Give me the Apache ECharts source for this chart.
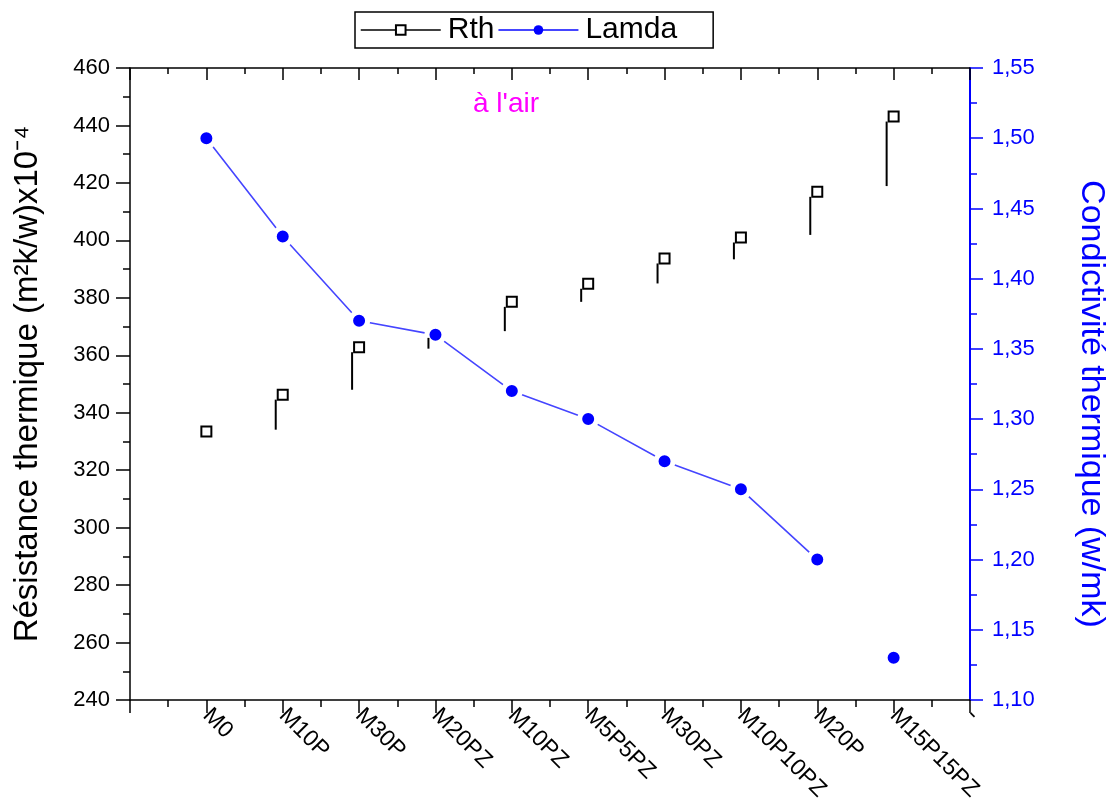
<!DOCTYPE html>
<html>
<head>
<meta charset="utf-8">
<script src="https://cdn.jsdelivr.net/npm/echarts@6/dist/echarts.min.js"></script>
<style>
  html, body { margin: 0; padding: 0; background: #fff; }
  #chart { width: 1109px; height: 812px; }
</style>
</head>
<body>
<div id="chart"></div>
<script>
// echantillons (axe x)
var categories = ['M0', 'M10P', 'M30P', 'M20PZ', 'M10PZ', 'M5P5PZ', 'M30PZ', 'M10P10PZ', 'M20P', 'M15P15PZ'];
var tickLabels = [''].concat(categories, ['-']);

// resistance thermique (axe gauche) et bas des petits traits verticaux
var rth = [333.5, 346.3, 362.8, 367.8, 378.6, 384.9, 393.7, 401.0, 416.9, 443.1];
var rthLow = [null, 334.1, 348.0, 362.3, 368.4, 378.6, 385.0, 393.4, 401.9, 418.9];

// conductivite (axe droit)
var lamda = [1.50, 1.43, 1.37, 1.36, 1.32, 1.30, 1.27, 1.25, 1.20, 1.13];
var lamdaBreakAfter = 8; // pas de trait entre M20P et M15P15PZ

var font = '"Liberation Sans", Arial, sans-serif';
var chart = echarts.init(document.getElementById('chart'));

var rthData = rth.map(function (v, i) { return [i + 1, v]; });
var segData = rth.map(function (v, i) { return [i + 1, v, rthLow[i]]; });
var lamdaData = [];
lamda.forEach(function (v, i) {
    lamdaData.push([i + 1, v]);
    if (i === lamdaBreakAfter) lamdaData.push([i + 1.5, '-']);
});

var option = {
    animation: false,
    textStyle: { fontFamily: font },
    title: {
        text: "à l'air",
        left: 468,
        top: 85,
        textStyle: { color: '#ff00ff', fontSize: 28, fontWeight: 'normal', fontFamily: font }
    },
    legend: {
        left: 355,
        top: 12,
        padding: [3, 36, 3, 5],
        borderColor: '#000',
        borderWidth: 1.5,
        itemWidth: 80,
        itemHeight: 12,
        itemGap: 3,
        textStyle: { fontSize: 30, color: '#000', fontFamily: font, padding: [0, 0, 0, 2] },
        data: [
            { name: 'Rth', lineStyle: { opacity: 1, color: '#000', width: 1.5 } },
            { name: 'Lamda', itemStyle: { borderWidth: 0 } }
        ]
    },
    grid: { left: 130, right: 139, top: 68, bottom: 112, outerBoundsMode: 'none' },
    xAxis: [{
        type: 'value',
        min: 0,
        max: 11,
        interval: 1,
        axisLine: { onZero: false, lineStyle: { color: '#000', width: 1.5 } },
        axisTick: { length: 13, lineStyle: { color: '#000', width: 1.5 } },
        minorTick: { show: true, splitNumber: 2, length: 7, lineStyle: { color: '#000', width: 1.5 } },
        splitLine: { show: false },
        axisLabel: {
            rotate: -45,
            margin: 12,
            fontSize: 23,
            color: '#000',
            fontFamily: font,
            formatter: function (v) { return tickLabels[Math.round(v)] || ''; }
        }
    }, {
        type: 'value',
        position: 'top',
        min: 0,
        max: 11,
        interval: 1,
        axisLine: { show: true, onZero: false, lineStyle: { color: '#000', width: 1.5 } },
        axisTick: { inside: true, length: 12, lineStyle: { color: '#000', width: 1.5 } },
        minorTick: { show: true, splitNumber: 2, length: 6, lineStyle: { color: '#000', width: 1.5 } },
        axisLabel: { show: false },
        splitLine: { show: false }
    }],
    yAxis: [{
        type: 'value',
        min: 240,
        max: 460,
        interval: 20,
        name: 'Résistance thermique (m²k/w)x10⁻⁴',
        nameLocation: 'middle',
        nameGap: 86,
        nameTextStyle: { fontSize: 33, color: '#000', fontFamily: font },
        axisLine: { show: true, onZero: false, lineStyle: { color: '#000', width: 1.5 } },
        axisTick: { length: 14, lineStyle: { color: '#000', width: 1.5 } },
        minorTick: { show: true, splitNumber: 2, length: 7, lineStyle: { color: '#000', width: 1.5 } },
        splitLine: { show: false },
        axisLabel: { margin: 20, fontSize: 22, color: '#000', fontFamily: font }
    }, {
        type: 'value',
        position: 'right',
        min: 1.10,
        max: 1.55,
        interval: 0.05,
        name: 'Condictivité thermique (w/mk)',
        nameLocation: 'middle',
        nameRotate: -90,
        nameGap: 104,
        nameTextStyle: { fontSize: 34, color: '#0000ff', fontFamily: font, padding: [0, 0, 0, 40] },
        axisLine: { show: true, onZero: false, lineStyle: { color: '#0000ff', width: 2 } },
        axisTick: { length: 13, lineStyle: { color: '#0000ff', width: 1.5 } },
        minorTick: { show: true, splitNumber: 2, length: 7, lineStyle: { color: '#0000ff', width: 1.5 } },
        splitLine: { show: false },
        axisLabel: {
            margin: 22,
            fontSize: 22,
            color: '#0000ff',
            fontFamily: font,
            formatter: function (v) { return v.toFixed(2).replace('.', ','); }
        }
    }],
    series: [
        {
            // petits traits verticaux a gauche de chaque carre
            type: 'custom',
            name: 'RthSeg',
            xAxisIndex: 0,
            yAxisIndex: 0,
            data: segData,
            z: 5,
            renderItem: function (params, api) {
                var low = api.value(2);
                if (low == null || isNaN(low)) return null;
                var top = api.coord([api.value(0), api.value(1)]);
                var bot = api.coord([api.value(0), low]);
                return {
                    type: 'line',
                    shape: { x1: top[0] - 7, y1: top[1] + 5, x2: top[0] - 7, y2: bot[1] },
                    style: { stroke: '#000', lineWidth: 2 }
                };
            }
        },
        {
            name: 'Rth',
            type: 'line',
            xAxisIndex: 0,
            yAxisIndex: 0,
            data: rthData,
            symbol: 'rect',
            symbolSize: 10,
            lineStyle: { opacity: 0, color: '#000', width: 1.5 },
            itemStyle: { color: '#fff', borderColor: '#000', borderWidth: 2 },
            z: 3
        },
        {
            name: 'Lamda',
            type: 'line',
            xAxisIndex: 0,
            yAxisIndex: 1,
            data: lamdaData,
            connectNulls: false,
            symbol: 'circle',
            symbolSize: 17,
            lineStyle: { color: '#4545ff', width: 1.6 },
            itemStyle: { color: '#0000ff', borderColor: '#fff', borderWidth: 5 },
            z: 4
        }
    ]
};

chart.setOption(option);
</script>
</body>
</html>
